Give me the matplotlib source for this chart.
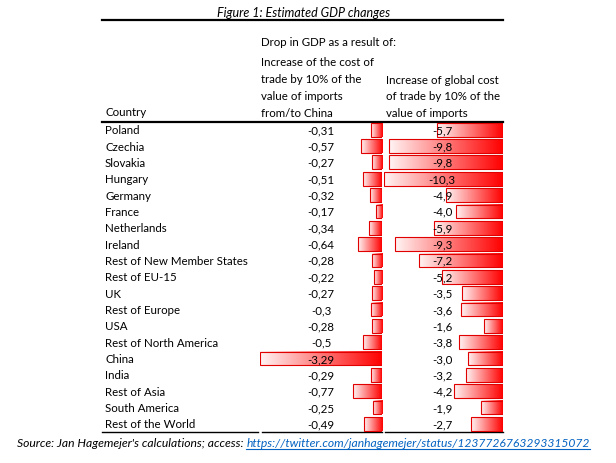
import matplotlib
matplotlib.use("Agg")
import matplotlib.pyplot as plt
import numpy as np
from matplotlib.patches import Rectangle

countries = ["Poland", "Czechia", "Slovakia", "Hungary", "Germany", "France",
             "Netherlands", "Ireland", "Rest of New Member States", "Rest of EU-15",
             "UK", "Rest of Europe", "USA", "Rest of North America", "China",
             "India", "Rest of Asia", "South America", "Rest of the World"]
china_cost = [-0.31, -0.57, -0.27, -0.51, -0.32, -0.17, -0.34, -0.64, -0.28, -0.22,
              -0.27, -0.3, -0.28, -0.5, -3.29, -0.29, -0.77, -0.25, -0.49]
global_cost = [-5.7, -9.8, -9.8, -10.3, -4.9, -4.0, -5.9, -9.3, -7.2, -5.2,
               -3.5, -3.6, -1.6, -3.8, -3.0, -3.2, -4.2, -1.9, -2.7]
china_labels = ["-0,31", "-0,57", "-0,27", "-0,51", "-0,32", "-0,17", "-0,34", "-0,64",
                "-0,28", "-0,22", "-0,27", "-0,3", "-0,28", "-0,5", "-3,29", "-0,29",
                "-0,77", "-0,25", "-0,49"]
global_labels = ["-5,7", "-9,8", "-9,8", "-10,3", "-4,9", "-4,0", "-5,9", "-9,3", "-7,2",
                 "-5,2", "-3,5", "-3,6", "-1,6", "-3,8", "-3,0", "-3,2", "-4,2", "-1,9", "-2,7"]

title = "Figure 1: Estimated GDP changes"
head_top = "Drop in GDP as a result of:"
head_col1 = ["Increase of the cost of", "trade by 10% of the", "value of imports", "from/to China"]
head_col2 = ["Increase of global cost", "of trade by 10% of the", "value of imports"]
source = "Source: Jan Hagemejer's calculations; access: "
link = "https://twitter.com/janhagemejer/status/1237726763293315072"

plt.rcParams['font.family'] = ['Lato', 'DejaVu Sans']
FS = 8.3
W, H = 616, 464
fig = plt.figure(figsize=(W / 100, H / 100), dpi=100)
ax = fig.add_axes([0, 0, 1, 1])
ax.set_xlim(0, W)
ax.set_ylim(H, 0)
ax.axis("off")

top, bottom = 122.5, 433
n = len(countries)
rh = (bottom - top) / n
rows = top + rh * (np.arange(n) + 0.5)

# title and header
ax.text(304, 13, title, ha="center", va="center", style="italic", fontsize=9.0)
ax.plot([102, 503], [21, 21], color="black", lw=1.6)
ax.text(261, 42, head_top, ha="left", va="center", fontsize=FS)
for k, s in enumerate(head_col1):
    ax.text(261, 63 + 16.7 * k, s, ha="left", va="center", fontsize=FS)
for k, s in enumerate(head_col2):
    ax.text(386, 80 + 16.7 * k, s, ha="left", va="center", fontsize=FS)
ax.text(105, 113, "Country", ha="left", va="center", fontsize=FS)
ax.plot([102, 503], [top, top], color="black", lw=1.6)
for x0, x1 in [(102, 258), (262, 382), (385, 503)]:
    ax.plot([x0, x1], [bottom, bottom], color="black", lw=1.0)

# gradient data bars
grad = np.linspace(0, 1, 256).reshape(1, -1)
cmap = matplotlib.colors.LinearSegmentedColormap.from_list("db", ["#fff4f4", "#ff0000"])

def bar_axes(x0, x1, vals):
    bax = fig.add_axes([x0 / W, 1 - bottom / H, (x1 - x0) / W, (bottom - top) / H])
    bax.axis("off")
    bax.patch.set_alpha(0)
    for i, v in enumerate(vals):
        bax.imshow(grad, cmap=cmap, extent=(v, 0, i + 0.42, i - 0.42),
                   aspect="auto", interpolation="bilinear", zorder=1)
        bax.add_patch(Rectangle((v, i - 0.42), -v, 0.84, fill=False,
                                edgecolor="#e00000", lw=0.8, zorder=2))
    bax.set_xlim(min(vals), 0)
    bax.set_ylim(n - 0.5, -0.5)
    return bax

bar_axes(260, 382, china_cost)
bar_axes(383.5, 502.5, global_cost)

# row texts on top of bars
tax = fig.add_axes([0, 0, 1, 1])
tax.set_xlim(0, W)
tax.set_ylim(H, 0)
tax.axis("off")
tax.patch.set_alpha(0)
for y, c, a, b in zip(rows, countries, china_labels, global_labels):
    tax.text(105, y, c, ha="left", va="center", fontsize=FS)
    tax.text(321, y, a, ha="center", va="center", fontsize=FS)
    tax.text(442, y, b, ha="center", va="center", fontsize=FS)

# source line with underlined link
SFS = 8.75
t1 = tax.text(17, 444, source, ha="left", va="center", style="italic", fontsize=SFS)
fig.canvas.draw()
r = fig.canvas.get_renderer()
bb = t1.get_window_extent(r)
t2 = tax.text(bb.x1, H - 444, link, ha="left", va="center", style="italic", fontsize=SFS,
              color="#0563c1", transform=None)
fig.canvas.draw()
bb2 = t2.get_window_extent(r)
tax.plot([bb2.x0, bb2.x1], [H - bb2.y0 + 0.5, H - bb2.y0 + 0.5], color="#0563c1", lw=0.8)

fig.savefig("out.png", dpi=100)
